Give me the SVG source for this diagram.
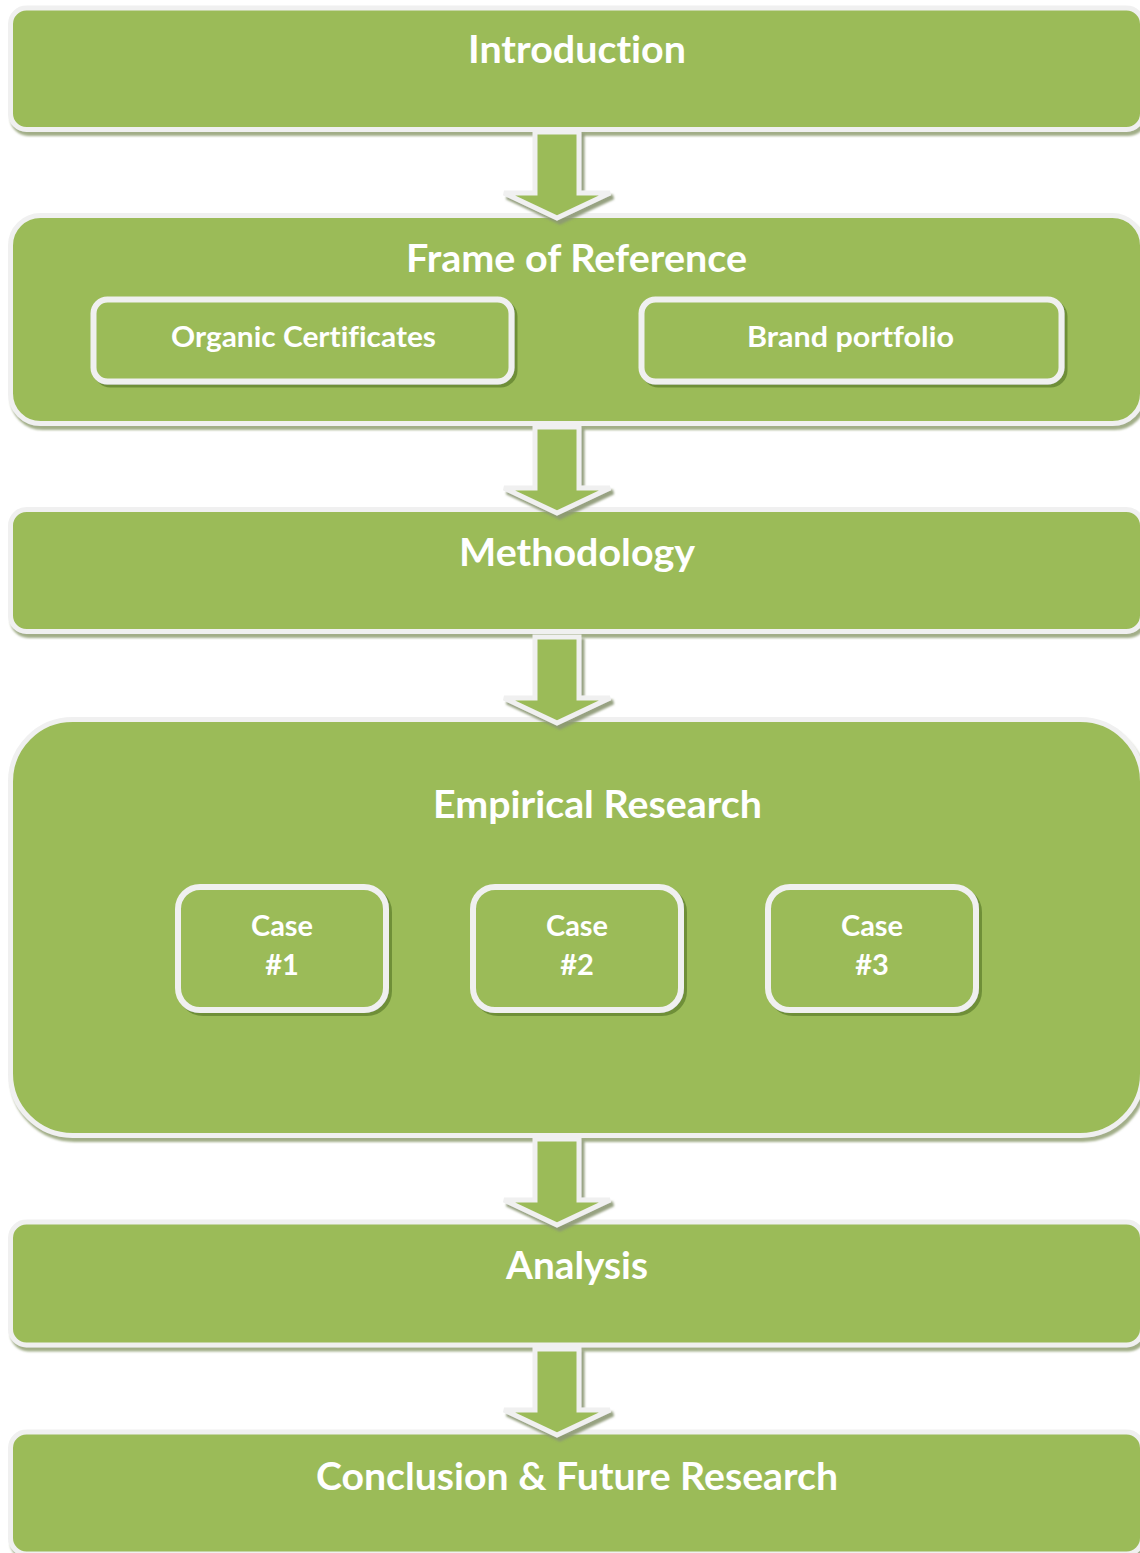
<svg xmlns="http://www.w3.org/2000/svg" width="1140" height="1553" viewBox="0 0 1140 1553">
<style>
.main{fill:#9bbb59;stroke:#f0f0f0;stroke-width:5}
.sub{fill:#9bbb59;stroke:#f0f0f0;stroke-width:6}
.t{font-family:Lato,"Open Sans","Liberation Sans",sans-serif;font-weight:bold;fill:#ffffff;text-anchor:middle;font-variant-ligatures:none}
.t1{font-size:38px}
.t2{font-size:29px}
.arrow{fill:#9bbb59;stroke:#f0f0f0;stroke-width:5;stroke-linejoin:miter}
</style>
<defs>
<filter id="shMain" x="-5%" y="-10%" width="110%" height="130%">
<feDropShadow dx="2" dy="4" stdDeviation="0.8" flood-color="#98a57c" flood-opacity="0.9"/>
</filter>
<filter id="shSub" x="-5%" y="-10%" width="115%" height="130%">
<feDropShadow dx="3" dy="3" stdDeviation="0.7" flood-color="#6b8a35" flood-opacity="0.9"/>
</filter>
<filter id="shArrow" x="-20%" y="-10%" width="140%" height="130%">
<feDropShadow dx="3" dy="4" stdDeviation="1" flood-color="#8c9873" flood-opacity="0.9"/>
</filter>
<path id="arr" d="M-22,0 H22 V61 H53 L0,86 L-53,61 H-22 Z"/>
</defs>

<g id="intro">
<rect class="main" filter="url(#shMain)" x="10.5" y="8" width="1132" height="121.5" rx="16"/>
<text class="t t1" x="577" y="63" textLength="218" lengthAdjust="spacingAndGlyphs">Introduction</text>
</g>

<g id="frame">
<rect class="main" filter="url(#shMain)" x="10.5" y="215.5" width="1132" height="208" rx="30"/>
<text class="t t1" x="576.5" y="272" textLength="341" lengthAdjust="spacingAndGlyphs">Frame of Reference</text>
<g id="organic">
<rect class="sub" filter="url(#shSub)" x="93.5" y="299.5" width="418" height="82" rx="14"/>
<text class="t t2" x="303.5" y="347" textLength="265" lengthAdjust="spacingAndGlyphs">Organic Certificates</text>
</g>
<g id="brand">
<rect class="sub" filter="url(#shSub)" x="641.5" y="299.5" width="420" height="82" rx="14"/>
<text class="t t2" x="850.5" y="347" textLength="207" lengthAdjust="spacingAndGlyphs">Brand portfolio</text>
</g>
</g>

<g id="methodology">
<rect class="main" filter="url(#shMain)" x="10.5" y="509.5" width="1132" height="122" rx="16"/>
<text class="t t1" x="577" y="566" textLength="236" lengthAdjust="spacingAndGlyphs">Methodology</text>
</g>

<g id="empirical">
<rect class="main" filter="url(#shMain)" x="10.5" y="719.5" width="1132" height="416" rx="62"/>
<text class="t t1" x="597.5" y="818" textLength="329" lengthAdjust="spacingAndGlyphs">Empirical Research</text>
<g id="case1">
<rect class="sub" filter="url(#shSub)" x="178" y="887" width="208" height="123" rx="22"/>
<text class="t t2" x="282" y="936" textLength="62" lengthAdjust="spacingAndGlyphs">Case</text>
<text class="t t2" x="282" y="975">#1</text>
</g>
<g id="case2">
<rect class="sub" filter="url(#shSub)" x="473" y="887" width="208" height="123" rx="22"/>
<text class="t t2" x="577" y="936" textLength="62" lengthAdjust="spacingAndGlyphs">Case</text>
<text class="t t2" x="577" y="975">#2</text>
</g>
<g id="case3">
<rect class="sub" filter="url(#shSub)" x="768" y="887" width="208" height="123" rx="22"/>
<text class="t t2" x="872" y="936" textLength="62" lengthAdjust="spacingAndGlyphs">Case</text>
<text class="t t2" x="872" y="975">#3</text>
</g>
</g>

<g id="analysis">
<rect class="main" filter="url(#shMain)" x="10.5" y="1222" width="1132" height="123" rx="16"/>
<text class="t t1" x="577" y="1279" textLength="142" lengthAdjust="spacingAndGlyphs">Analysis</text>
</g>

<g id="conclusion">
<rect class="main" filter="url(#shMain)" x="10.5" y="1432" width="1132" height="122" rx="16"/>
<text class="t t1" x="577" y="1490" textLength="522" lengthAdjust="spacingAndGlyphs">Conclusion &amp; Future Research</text>
</g>

<g id="connectors" filter="url(#shArrow)">
<use href="#arr" class="arrow" transform="translate(557,132)"/>
<use href="#arr" class="arrow" transform="translate(557,427)"/>
<use href="#arr" class="arrow" transform="translate(557,637)"/>
<use href="#arr" class="arrow" transform="translate(557,1139)"/>
<use href="#arr" class="arrow" transform="translate(557,1349)"/>
</g>
</svg>
